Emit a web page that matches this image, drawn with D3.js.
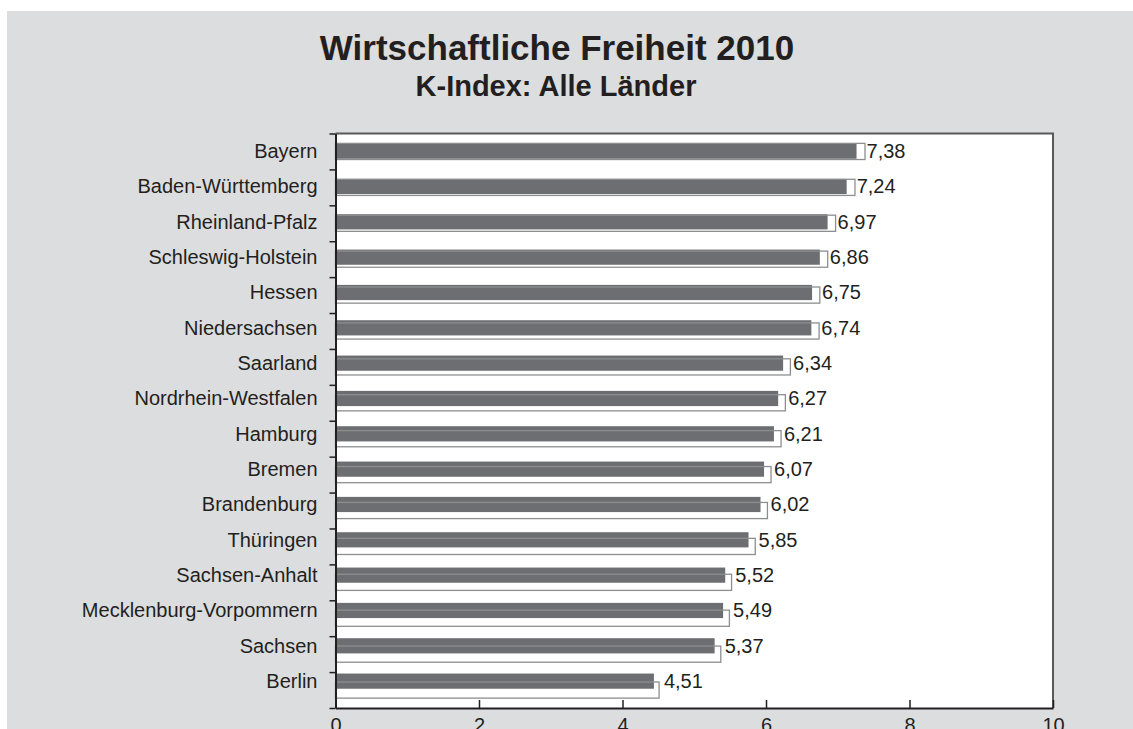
<!DOCTYPE html>
<html>
<head>
<meta charset="utf-8">
<script src="https://cdn.jsdelivr.net/npm/d3@7"></script>
<style>
  html, body { margin: 0; padding: 0; background: #fff; }
  svg { display: block; font-family: "Liberation Sans", Arial, sans-serif; }
</style>
</head>
<body>
<div id="chart"></div>
<script>
// data
const laender = ['Bayern', 'Baden-Württemberg', 'Rheinland-Pfalz', 'Schleswig-Holstein', 'Hessen',
  'Niedersachsen', 'Saarland', 'Nordrhein-Westfalen', 'Hamburg', 'Bremen', 'Brandenburg',
  'Thüringen', 'Sachsen-Anhalt', 'Mecklenburg-Vorpommern', 'Sachsen', 'Berlin'];
const kIndex = [7.38, 7.24, 6.97, 6.86, 6.75, 6.74, 6.34, 6.27, 6.21, 6.07, 6.02, 5.85, 5.52, 5.49, 5.37, 4.51];
const xTicks = [0, 2, 4, 6, 8, 10];

const title = 'Wirtschaftliche Freiheit 2010';
const subtitle = 'K-Index: Alle Länder';

const data = laender.map((name, i) => ({ name, value: kIndex[i] }));

const config = { width: 1133, height: 729, margin: { top: 133.5, right: 80, bottom: 21, left: 335.5 } };
const innerW = config.width - config.margin.left - config.margin.right;
const innerH = config.height - config.margin.top - config.margin.bottom;
const shrink = 0.984; // dark bars are drawn slightly smaller than the outline bars

const de = d3.formatLocale({ decimal: ',', thousands: '.', grouping: [3], currency: ['', ' €'] });
const fmt = de.format('.2f');

const svg = d3.select('#chart').append('svg')
  .attr('width', config.width)
  .attr('height', config.height);

// background
svg.append('rect')
  .attr('x', 7).attr('y', 11)
  .attr('width', config.width - 7).attr('height', config.height - 11)
  .attr('fill', '#dcdddf');

svg.append('text')
  .attr('x', 557).attr('y', 60)
  .attr('text-anchor', 'middle')
  .attr('font-size', 35).attr('font-weight', 'bold')
  .attr('fill', '#231f20')
  .text(title);

svg.append('text')
  .attr('x', 556).attr('y', 96)
  .attr('text-anchor', 'middle')
  .attr('font-size', 29).attr('font-weight', 'bold')
  .attr('fill', '#231f20')
  .text(subtitle);

const chart = svg.append('g')
  .attr('transform', `translate(${config.margin.left},${config.margin.top})`);

// scales
const x = d3.scaleLinear().domain([0, 10]).range([0, innerW]);
const xDark = d3.scaleLinear().domain([0, 10]).range([0, innerW * shrink]);
const y = d3.scaleBand().domain(laender).range([0, innerH]).paddingInner(0.55).paddingOuter(0.275);
const yDark = d3.scaleBand().domain(laender).range([0, innerH * shrink]).paddingInner(0.57).paddingOuter(0.285);
const yIdx = d3.scaleLinear().domain([0, laender.length]).range([0, innerH]);

chart.append('rect')
  .attr('width', innerW).attr('height', innerH)
  .attr('fill', '#fff');

// dark bars
chart.selectAll('.bar')
  .data(data)
  .enter()
  .append('rect')
  .attr('class', 'bar')
  .attr('x', 0)
  .attr('y', d => yDark(d.name))
  .attr('width', d => xDark(d.value))
  .attr('height', yDark.bandwidth())
  .attr('fill', '#6d6e71');

// outline bars
chart.selectAll('.outline')
  .data(data)
  .enter()
  .append('rect')
  .attr('class', 'outline')
  .attr('x', 0)
  .attr('y', d => y(d.name))
  .attr('width', d => x(d.value))
  .attr('height', y.bandwidth())
  .attr('fill', 'none')
  .attr('stroke', '#8d8e90')
  .attr('stroke-width', 1.3);

// value labels
chart.selectAll('.val')
  .data(data)
  .enter()
  .append('text')
  .attr('class', 'val')
  .attr('x', d => xDark(d.value) + 10)
  .attr('y', d => yDark(d.name) + yDark.bandwidth() / 2)
  .attr('dy', '0.35em')
  .attr('font-size', 20)
  .attr('fill', '#231f20')
  .text(d => fmt(d.value));

// category labels
chart.selectAll('.cat')
  .data(data)
  .enter()
  .append('text')
  .attr('class', 'cat')
  .attr('x', -18)
  .attr('y', d => yDark(d.name) + yDark.bandwidth() / 2)
  .attr('dy', '0.35em')
  .attr('text-anchor', 'end')
  .attr('font-size', 20)
  .attr('fill', '#231f20')
  .text(d => d.name);

// frame: top and right
chart.append('path')
  .attr('d', `M0,0H${innerW}V${innerH}`)
  .attr('fill', 'none')
  .attr('stroke', '#58595b')
  .attr('stroke-width', 2);

// axes
const yAxisG = chart.append('g')
  .call(d3.axisLeft(yIdx).ticks(laender.length).tickSize(6).tickSizeOuter(0).tickFormat(''));
yAxisG.select('.domain').attr('stroke', '#231f20').attr('stroke-width', 2);
yAxisG.selectAll('.tick line').attr('stroke', '#231f20').attr('stroke-width', 1.5);

const xAxisG = chart.append('g')
  .attr('transform', `translate(0,${innerH})`)
  .call(d3.axisBottom(x).tickValues(xTicks).tickSize(-8).tickSizeOuter(0).tickPadding(10));
xAxisG.select('.domain').attr('stroke', '#231f20').attr('stroke-width', 2);
xAxisG.selectAll('.tick line').attr('stroke', '#231f20').attr('stroke-width', 1.5);
xAxisG.selectAll('.tick text')
  .attr('font-size', 20)
  .attr('font-family', '"Liberation Sans", Arial, sans-serif')
  .attr('fill', '#231f20');
</script>
</body>
</html>
